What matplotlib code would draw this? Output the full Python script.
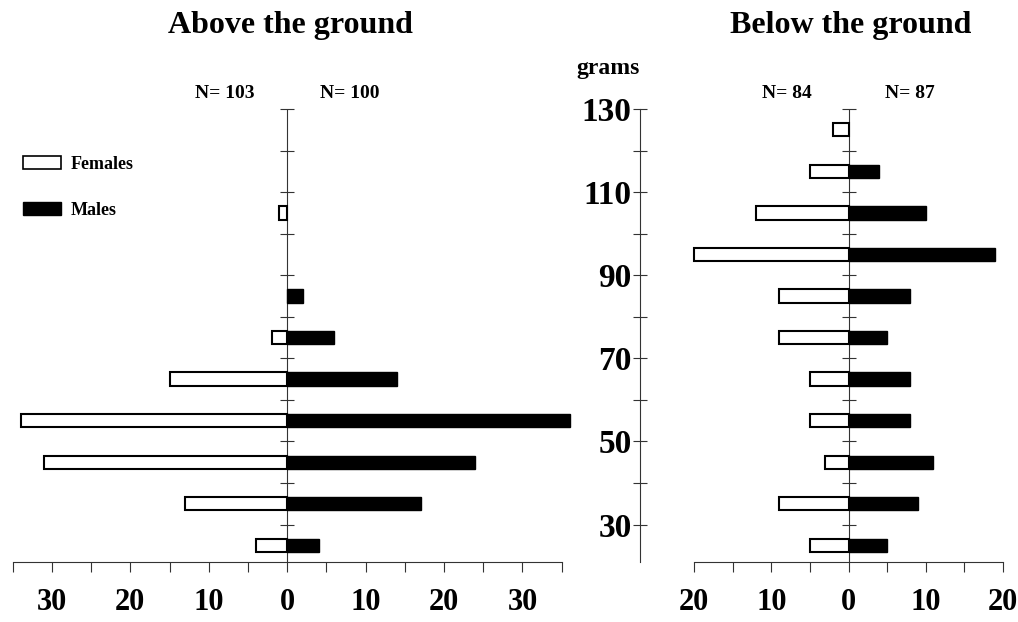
import numpy as np
import matplotlib
matplotlib.use('Agg')
import matplotlib.pyplot as plt
from matplotlib.patches import Patch

# classes de peso (centro da classe, em gramas)
grams_bins = [25, 35, 45, 55, 65, 75, 85, 95, 105, 115, 125]

# Above the ground
above_females = [4, 13, 31, 34, 15, 2, 0, 0, 1, 0, 0]
above_males = [4, 17, 24, 36, 14, 6, 2, 0, 0, 0, 0]
above_n = ['N= 103', 'N= 100']

# Below the ground
below_females = [5, 9, 3, 5, 5, 9, 9, 20, 12, 5, 2]
below_males = [5, 9, 11, 8, 8, 5, 8, 19, 10, 4, 0]
below_n = ['N= 84', 'N= 87']

gram_ticks = [30, 50, 70, 90, 110, 130]
gram_minor = [40, 60, 80, 100, 120]

plt.rcParams['font.family'] = ['Liberation Serif', 'DejaVu Serif']
plt.rcParams['font.weight'] = 'bold'

W, H = 1018, 622
fig = plt.figure(figsize=(W / 100, H / 100), dpi=100)

y_bot, y_top = 562, 109
bottom = (H - y_bot) / H
height = (y_bot - y_top) / H

ax1 = fig.add_axes([12.7 / W, bottom, 549 / W, height])
ax2 = fig.add_axes([640 / W, bottom, 363 / W, height])

line_col = '#333333'


def painel(ax, females, males, xmax, xleft, n_labels):
    f_y = [g for g, v in zip(grams_bins, females) if v > 0]
    f_v = [-v for v in females if v > 0]
    m_y = [g for g, v in zip(grams_bins, males) if v > 0]
    m_v = [v for v in males if v > 0]
    ax.barh(f_y, f_v, height=3.2, color='white', edgecolor='black', linewidth=1.5, clip_on=False, zorder=3)
    ax.barh(m_y, m_v, height=3.2, color='black', edgecolor='black', linewidth=1.0, clip_on=False, zorder=3)

    ax.set_ylim(21, 130)
    ax.set_xlim(xleft, xmax)

    # linha central com tracinhos a cada 10 g
    ax.axvline(0, color=line_col, linewidth=0.8, zorder=2)
    cross = np.arange(30, 131, 10)
    ax.plot(np.zeros(len(cross)), cross, ls='none', marker='_', markersize=10,
            markeredgewidth=0.8, color=line_col, clip_on=False, zorder=2)

    for s in ['top', 'right', 'left']:
        ax.spines[s].set_visible(False)
    ax.spines['bottom'].set_bounds(-xmax, xmax)
    ax.spines['bottom'].set_color(line_col)
    ax.spines['bottom'].set_linewidth(0.8)

    ticks = np.arange(-xmax, xmax + 1, 5)
    labels = [str(abs(t)) if t % 10 == 0 else '' for t in ticks]
    ax.set_xticks(ticks, labels=labels)
    ax.tick_params(axis='x', direction='out', length=7, width=0.8, color=line_col,
                   pad=12, labelsize=22)
    ax.set_yticks([])

    ax.text(-8, 1.035, n_labels[0], transform=ax.get_xaxis_transform(),
            ha='center', va='center', fontsize=14, fontweight='bold')
    ax.text(8, 1.035, n_labels[1], transform=ax.get_xaxis_transform(),
            ha='center', va='center', fontsize=14, fontweight='bold')


painel(ax1, above_females, above_males, 35, -35, above_n)
painel(ax2, below_females, below_males, 20, -27, below_n)

# eixo de gramas no painel da direita
ax2.spines['left'].set_visible(True)
ax2.spines['left'].set_color(line_col)
ax2.spines['left'].set_linewidth(0.8)
ax2.set_yticks(gram_ticks)
ax2.set_yticks(gram_minor, minor=True)
ax2.tick_params(axis='y', which='both', direction='inout', length=10, width=0.8,
                color=line_col, pad=1, labelsize=24)
ax2.text(-27, 1.09, 'grams', transform=ax2.get_xaxis_transform(),
         ha='right', va='center', fontsize=17, fontweight='bold')

fig.text(290 / W, 1 - 25 / H, 'Above the ground', ha='center', va='center', fontsize=23, fontweight='bold')
fig.text(851 / W, 1 - 25 / H, 'Below the ground', ha='center', va='center', fontsize=23, fontweight='bold')

handles = [Patch(facecolor='white', edgecolor='black', linewidth=1.2),
           Patch(facecolor='black', edgecolor='black')]
fig.legend(handles, ['Females', 'Males'], loc='upper left', bbox_to_anchor=(23 / W, 1 - 156 / H),
           frameon=False, borderpad=0, borderaxespad=0, handlelength=2.1, handleheight=0.72,
           handletextpad=0.55, labelspacing=1.6, prop={'family': 'Liberation Serif', 'weight': 'bold', 'size': 13})

fig.savefig('out.png', dpi=100)
